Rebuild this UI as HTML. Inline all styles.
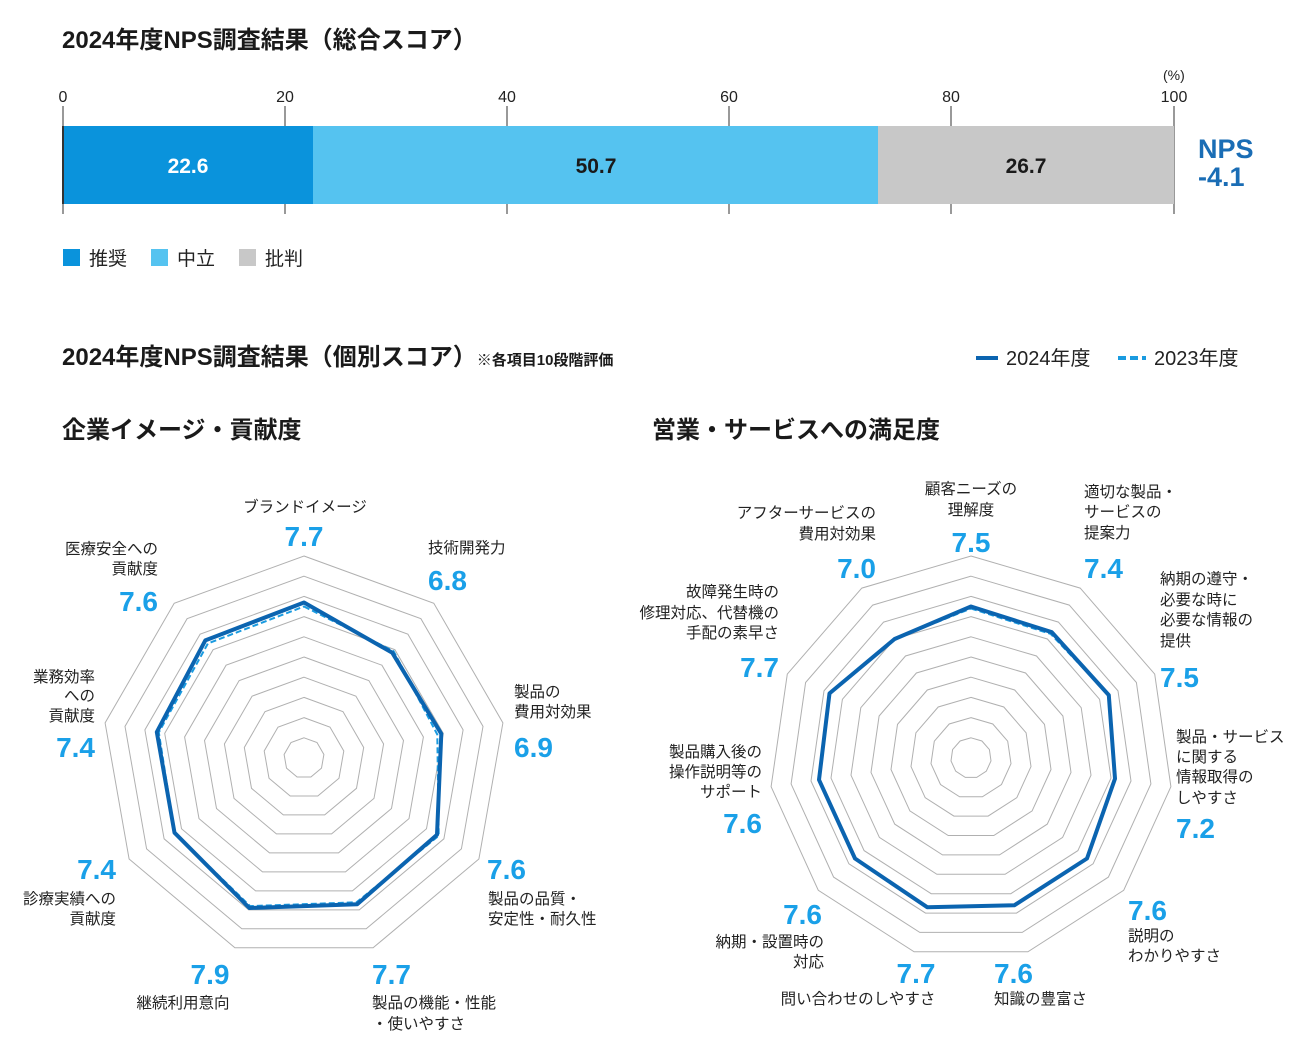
<!DOCTYPE html>
<html><head><meta charset="utf-8"><style>
body{margin:0;background:#fff;}
svg text{font-family:"Liberation Sans","Noto Sans CJK JP",sans-serif;}
.t{font-size:24px;font-weight:bold;fill:#1a1a1a}
.l{font-size:15.5px;fill:#222}
.v{font-size:28px;font-weight:bold;fill:#1aa0e8}
.tk{font-size:16px;fill:#222}
</style></head><body>
<svg id="s" width="1311" height="1052" viewBox="0 0 1311 1052" xmlns="http://www.w3.org/2000/svg">
<text x="62" y="48" class="t">2024年度NPS調査結果（総合スコア）</text>
<text x="1163" y="80" class="tk" style="font-size:14px">(%)</text>
<g class="tk" text-anchor="middle">
<text x="63" y="102">0</text><text x="285" y="102">20</text><text x="507" y="102">40</text><text x="729" y="102">60</text><text x="951" y="102">80</text><text x="1174" y="102">100</text></g>
<g stroke="#333" stroke-width="1">
<line x1="63" y1="106" x2="63" y2="214"/><line x1="285" y1="106" x2="285" y2="214"/><line x1="507" y1="106" x2="507" y2="214"/><line x1="729" y1="106" x2="729" y2="214"/><line x1="951" y1="106" x2="951" y2="214"/><line x1="1174" y1="106" x2="1174" y2="214"/></g>
<rect x="63" y="126" width="250" height="78" fill="#0a93dc"/>
<rect x="313" y="126" width="565" height="78" fill="#55c3f0"/>
<rect x="878" y="126" width="296" height="78" fill="#c8c8c8"/>
<line x1="63" y1="126" x2="63" y2="204" stroke="#333" stroke-width="2"/>
<text x="188" y="173" text-anchor="middle" style="font-size:21px;font-weight:bold;fill:#fff">22.6</text>
<text x="596" y="173" text-anchor="middle" style="font-size:21px;font-weight:bold;fill:#1a1a1a">50.7</text>
<text x="1026" y="173" text-anchor="middle" style="font-size:21px;font-weight:bold;fill:#1a1a1a">26.7</text>
<text x="1198" y="158" style="font-size:27px;font-weight:bold;fill:#1a6db5">NPS</text>
<text x="1198" y="186" style="font-size:27px;font-weight:bold;fill:#1a6db5">-4.1</text>
<rect x="63" y="249" width="17" height="17" fill="#0a93dc"/><text x="89" y="265" style="font-size:19px;fill:#222">推奨</text>
<rect x="151" y="249" width="17" height="17" fill="#55c3f0"/><text x="177" y="265" style="font-size:19px;fill:#222">中立</text>
<rect x="239" y="249" width="17" height="17" fill="#c8c8c8"/><text x="265" y="265" style="font-size:19px;fill:#222">批判</text>

<text x="62" y="365" class="t">2024年度NPS調査結果（個別スコア）<tspan style="font-size:15px">※各項目10段階評価</tspan></text>
<line x1="976" y1="358" x2="998" y2="358" stroke="#0b64b0" stroke-width="4"/>
<text x="1006" y="365" style="font-size:20px;fill:#222">2024年度</text>
<line x1="1118" y1="358" x2="1146" y2="358" stroke="#1a9be0" stroke-width="4" stroke-dasharray="8,4"/>
<text x="1154" y="365" style="font-size:20px;fill:#222">2023年度</text>
<text x="62" y="438" class="t">企業イメージ・貢献度</text>
<text x="652" y="438" class="t">営業・サービスへの満足度</text>

<g class="l">
<text x="305" y="512" text-anchor="middle">ブランドイメージ</text>
<text x="428" y="553">技術開発力</text>
<text x="514" y="697">製品の</text><text x="514" y="717">費用対効果</text>
<text x="488" y="904">製品の品質・</text><text x="488" y="924">安定性・耐久性</text>
<text x="372" y="1008">製品の機能・性能</text><text x="372" y="1029">・使いやすさ</text>
<text x="183" y="1008" text-anchor="middle">継続利用意向</text>
<text x="116" y="904" text-anchor="end">診療実績への</text><text x="116" y="924" text-anchor="end">貢献度</text>
<text x="95" y="682" text-anchor="end">業務効率</text><text x="95" y="701" text-anchor="end">への</text><text x="95" y="721" text-anchor="end">貢献度</text>
<text x="158" y="554" text-anchor="end">医療安全への</text><text x="158" y="574" text-anchor="end">貢献度</text>
</g>
<g class="v">
<text x="304" y="546" text-anchor="middle">7.7</text>
<text x="428" y="590">6.8</text>
<text x="514" y="757">6.9</text>
<text x="487" y="879">7.6</text>
<text x="372" y="984">7.7</text>
<text x="210" y="984" text-anchor="middle">7.9</text>
<text x="116" y="879" text-anchor="end">7.4</text>
<text x="95" y="757" text-anchor="end">7.4</text>
<text x="158" y="611" text-anchor="end">7.6</text>
</g>

<g class="l">
<text x="971" y="494" text-anchor="middle">顧客ニーズの</text><text x="971" y="515" text-anchor="middle">理解度</text>
<text x="1084" y="497">適切な製品・</text><text x="1084" y="517">サービスの</text><text x="1084" y="538">提案力</text>
<text x="1160" y="584">納期の遵守・</text><text x="1160" y="605">必要な時に</text><text x="1160" y="625">必要な情報の</text><text x="1160" y="646">提供</text>
<text x="1176" y="742">製品・サービス</text><text x="1176" y="762">に関する</text><text x="1176" y="782">情報取得の</text><text x="1176" y="803">しやすさ</text>
<text x="1128" y="941">説明の</text><text x="1128" y="961">わかりやすさ</text>
<text x="994" y="1004">知識の豊富さ</text>
<text x="858" y="1004" text-anchor="middle">問い合わせのしやすさ</text>
<text x="824" y="947" text-anchor="end">納期・設置時の</text><text x="824" y="967" text-anchor="end">対応</text>
<text x="762" y="757" text-anchor="end">製品購入後の</text><text x="762" y="777" text-anchor="end">操作説明等の</text><text x="762" y="797" text-anchor="end">サポート</text>
<text x="779" y="597" text-anchor="end">故障発生時の</text><text x="779" y="618" text-anchor="end">修理対応、代替機の</text><text x="779" y="638" text-anchor="end">手配の素早さ</text>
<text x="876" y="518" text-anchor="end">アフターサービスの</text><text x="876" y="539" text-anchor="end">費用対効果</text>
</g>
<g class="v">
<text x="971" y="552" text-anchor="middle">7.5</text>
<text x="1084" y="578">7.4</text>
<text x="1160" y="687">7.5</text>
<text x="1176" y="838">7.2</text>
<text x="1128" y="920">7.6</text>
<text x="994" y="983">7.6</text>
<text x="916" y="983" text-anchor="middle">7.7</text>
<text x="822" y="924" text-anchor="end">7.6</text>
<text x="762" y="833" text-anchor="end">7.6</text>
<text x="779" y="677" text-anchor="end">7.7</text>
<text x="876" y="578" text-anchor="end">7.0</text>
</g>
<g id="radars"></g>
</svg>
<script>
var g=document.getElementById('radars'),NS='http://www.w3.org/2000/svg',S=20.2;
function poly(cx,cy,n,vals,attrs){var p=[];for(var i=0;i<n;i++){var a=-Math.PI/2+2*Math.PI*i/n,r=vals[i]*S;p.push((cx+r*Math.cos(a)).toFixed(1)+','+(cy+r*Math.sin(a)).toFixed(1));}
var e=document.createElementNS(NS,'polygon');e.setAttribute('points',p.join(' '));for(var k in attrs)e.setAttribute(k,attrs[k]);g.appendChild(e);}
function radar(cx,cy,v24,v23){var n=v24.length;for(var k=1;k<=10;k++){var a=[];for(var i=0;i<n;i++)a.push(k);poly(cx,cy,n,a,{fill:'none',stroke:'#b0b0b0','stroke-width':1});}
poly(cx,cy,n,v23,{fill:'none',stroke:'#1a9be0','stroke-width':2,'stroke-dasharray':'6,3'});
poly(cx,cy,n,v24,{fill:'none',stroke:'#0b64b0','stroke-width':4,'stroke-linejoin':'round'});}
radar(304,758,[7.7,6.8,6.9,7.6,7.7,7.9,7.4,7.4,7.6],[7.5,6.9,6.7,7.7,7.6,7.8,7.4,7.3,7.4]);
radar(971,758,[7.5,7.4,7.5,7.2,7.6,7.6,7.7,7.6,7.6,7.7,7.0],[7.4,7.3,7.5,7.2,7.6,7.6,7.7,7.6,7.6,7.7,7.0]);
</script>
</body></html>
